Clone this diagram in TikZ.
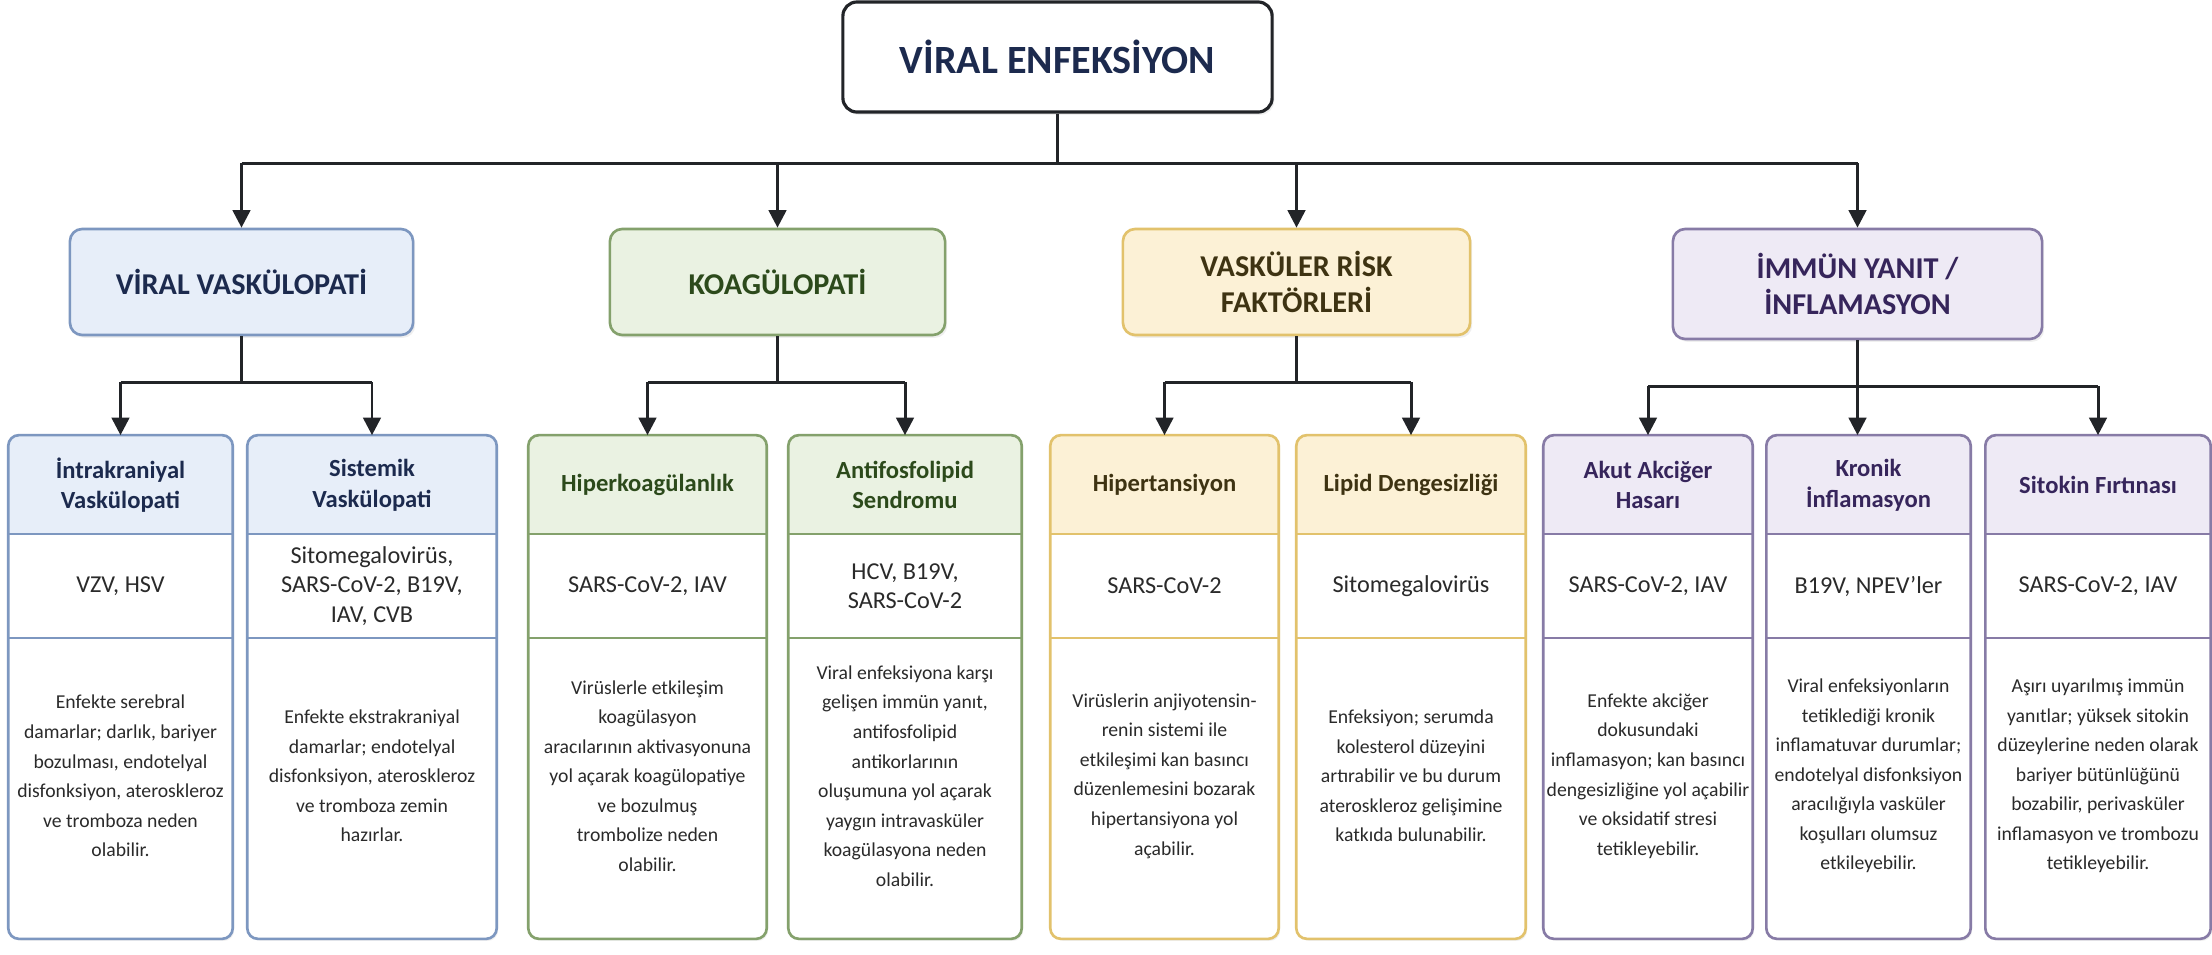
\documentclass[tikz,border=0pt]{standalone}
\usepackage{fontspec}
\setmainfont{Carlito}
\usetikzlibrary{arrows.meta,positioning,shadows}

\definecolor{fillb}{HTML}{E7EEF9}\definecolor{lineb}{HTML}{7D97C0}\definecolor{textb}{HTML}{1C2A4E}
\definecolor{fillg}{HTML}{EAF2E2}\definecolor{lineg}{HTML}{84A16C}\definecolor{textg}{HTML}{2C4A1B}
\definecolor{filly}{HTML}{FCF1D6}\definecolor{liney}{HTML}{E2C26C}\definecolor{texty}{HTML}{3E3312}
\definecolor{fillp}{HTML}{EEEAF5}\definecolor{linep}{HTML}{877BA6}\definecolor{textp}{HTML}{36255B}
\definecolor{darkline}{HTML}{222428}
\definecolor{bodytext}{HTML}{2A2A2A}

\begin{document}
\begin{tikzpicture}[x=0.01cm,y=-0.01cm,
	conn/.style={darkline,line width=0.85pt},
	arr/.style={conn,-{Triangle[length=5pt,width=5pt]}},
	shade/.style={drop shadow={opacity=0.12,shadow xshift=0.6pt,shadow yshift=-0.8pt}},
	topbox/.style={draw=darkline,line width=0.9pt,rounded corners=4pt,fill=white,shade,minimum width=4.29cm,minimum height=1.1cm,font=\fontsize{11.4}{13}\selectfont\bfseries,text=textb},
	catbox/.style={draw=line#1,fill=fill#1,line width=0.75pt,rounded corners=3.5pt,shade,text=text#1,align=center,font=\fontsize{8.6}{10.2}\selectfont\bfseries,minimum height=1.06cm},
	leaf/.style={fill=white,rounded corners=3pt,shade,minimum height=5.02cm,inner sep=0pt},
	leafhead/.style={align=center,font=\fontsize{7}{8.7}\selectfont\bfseries},
	leafvir/.style={align=center,font=\fontsize{6.9}{8.3}\selectfont,text=bodytext},
	leafdesc/.style={align=center,font=\fontsize{5.6}{8.4}\selectfont,text=bodytext}]
	\fill[white] (0,0) rectangle (2212,954);
	\useasboundingbox (0,0) rectangle (2212,954);

	\coordinate (h0) at (0,163);
	\coordinate (j1) at (0,382);
	\coordinate (j4) at (0,386);
	\coordinate (h2) at (0,534);
	\coordinate (h3) at (0,638);
	\coordinate (yh) at (0,485);
	\coordinate (yv) at (0,586);
	\coordinate (yd) at (0,776);

	\node[topbox] (vi) at (1057.5,57) {VİRAL ENFEKSİYON};
	\node[catbox=b,minimum width=3.43cm] (vv) at (241.5,282) {VİRAL VASKÜLOPATİ};
	\node[catbox=g,minimum width=3.35cm] (ko) at (777.5,282) {KOAGÜLOPATİ};
	\node[catbox=y,minimum width=3.47cm] (vr) at (1296.5,282) {VASKÜLER RİSK\\FAKTÖRLERİ};
	\node[catbox=p,minimum width=3.69cm,minimum height=1.10cm] (im) at (1857.5,284) {İMMÜN YANIT /\\İNFLAMASYON};

	\draw[conn] (vi.south) -- (vi.south |- h0);
	\draw[conn] (vv.north |- h0) -- (im.north |- h0);
	\foreach \c in {vv,ko,vr,im}
		\draw[arr] (\c.north |- h0) -- (\c.north);

	\foreach \nm/\xl/\xr/\g/\hd/\vir/\ds in {
		ia/9/232/b/{İntrakraniyal\\Vaskülopati}/{VZV, HSV}/{Enfekte serebral\\damarlar; darlık, bariyer\\bozulması, endotelyal\\disfonksiyon, ateroskleroz\\ve tromboza neden\\olabilir.},
		sv/248/496/b/{Sistemik\\Vaskülopati}/{Sitomegalovirüs,\\SARS-CoV-2, B19V,\\IAV, CVB}/{Enfekte ekstrakraniyal\\damarlar; endotelyal\\disfonksiyon, ateroskleroz\\ve tromboza zemin\\hazırlar.},
		hk/529/766/g/{Hiperkoagülanlık}/{SARS-CoV-2, IAV}/{Virüslerle etkileşim\\koagülasyon\\aracılarının aktivasyonuna\\yol açarak koagülopatiye\\ve bozulmuş\\trombolize neden\\olabilir.},
		as/789/1021/g/{Antifosfolipid\\Sendromu}/{HCV, B19V,\\SARS-CoV-2}/{Viral enfeksiyona karşı\\gelişen immün yanıt,\\antifosfolipid\\antikorlarının\\oluşumuna yol açarak\\yaygın intravasküler\\koagülasyona neden\\olabilir.},
		ht/1051/1278/y/{Hipertansiyon}/{SARS-CoV-2}/{Virüslerin anjiyotensin-\\renin sistemi ile\\etkileşimi kan basıncı\\düzenlemesini bozarak\\hipertansiyona yol\\açabilir.},
		ld/1297/1525/y/{Lipid Dengesizliği}/{Sitomegalovirüs}/{Enfeksiyon; serumda\\kolesterol düzeyini\\artırabilir ve bu durum\\ateroskleroz gelişimine\\katkıda bulunabilir.},
		ak/1544/1752/p/{Akut Akciğer\\Hasarı}/{SARS-CoV-2, IAV}/{Enfekte akciğer\\dokusundaki\\inflamasyon; kan basıncı\\dengesizliğine yol açabilir\\ve oksidatif stresi\\tetikleyebilir.},
		ki/1767/1970/p/{Kronik\\İnflamasyon}/{B19V, NPEV’ler}/{Viral enfeksiyonların\\tetiklediği kronik\\inflamatuvar durumlar;\\endotelyal disfonksiyon\\aracılığıyla vasküler\\koşulları olumsuz\\etkileyebilir.},
		sf/1986/2210/p/{Sitokin Fırtınası}/{SARS-CoV-2, IAV}/{Aşırı uyarılmış immün\\yanıtlar; yüksek sitokin\\düzeylerine neden olarak\\bariyer bütünlüğünü\\bozabilir, perivasküler\\inflamasyon ve trombozu\\tetikleyebilir.}}
	{
		\node[leaf,minimum width={(\xr-\xl)*0.01cm}] (\nm) at ({(\xl+\xr)/2},687) {};
		\begin{scope}
			\clip[rounded corners=3pt] (\nm.north west) rectangle (\nm.south east);
			\fill[fill\g] (\nm.north west) rectangle (\nm.east |- h2);
		\end{scope}
		\draw[line\g,line width=0.75pt] (\nm.west |- h2) -- (\nm.east |- h2) (\nm.west |- h3) -- (\nm.east |- h3);
		\draw[line\g,line width=0.75pt,rounded corners=3pt] (\nm.north west) rectangle (\nm.south east);
		\node[leafhead,text=text\g] (\nm-h) at (\nm |- yh) {\hd};
		\node[leafvir] (\nm-v) at (\nm |- yv) {\vir};
		\node[leafdesc] (\nm-d) at (\nm |- yd) {\ds};
	}

	% alt dallar
	\draw[conn] (vv.south) -- (vv.south |- j1);
	\draw[conn] (ia.north |- j1) -- (sv.north |- j1);
	\draw[arr] (ia.north |- j1) -- (ia.north);
	\draw[arr] (sv.north |- j1) -- (sv.north);

	\draw[conn] (ko.south) -- (ko.south |- j1);
	\draw[conn] (hk.north |- j1) -- (as.north |- j1);
	\draw[arr] (hk.north |- j1) -- (hk.north);
	\draw[arr] (as.north |- j1) -- (as.north);

	\draw[conn] (vr.south) -- (vr.south |- j1);
	\draw[conn] (ht.north |- j1) -- (ld.north |- j1);
	\draw[arr] (ht.north |- j1) -- (ht.north);
	\draw[arr] (ld.north |- j1) -- (ld.north);

	\draw[arr] (im.south) -- (im.south |- ki.north);
	\draw[conn] (ak.north |- j4) -- (sf.north |- j4);
	\draw[arr] (ak.north |- j4) -- (ak.north);
	\draw[arr] (sf.north |- j4) -- (sf.north);
\end{tikzpicture}
\end{document}
